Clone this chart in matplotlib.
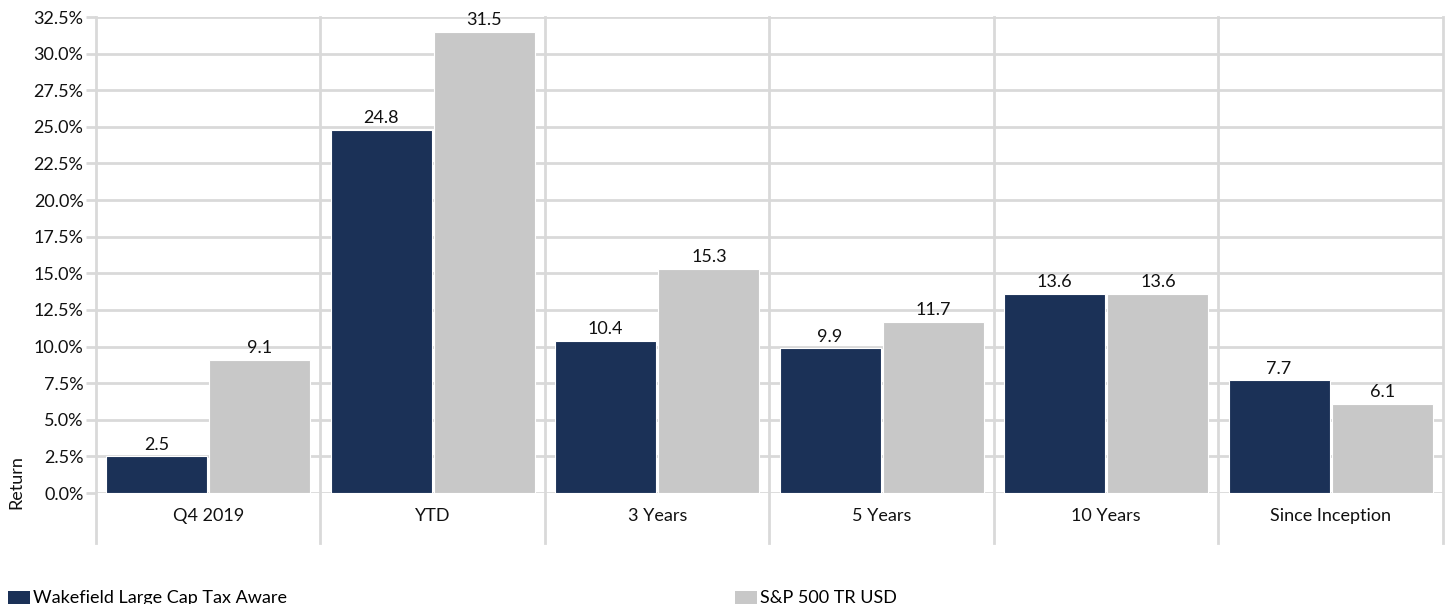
import matplotlib
matplotlib.use("Agg")
import matplotlib.pyplot as plt
from matplotlib.patches import Patch
import numpy as np

categories = ["Q4 2019", "YTD", "3 Years", "5 Years", "10 Years", "Since Inception"]
wakefield = [2.5, 24.8, 10.4, 9.9, 13.6, 7.7]
sp500 = [9.1, 31.5, 15.3, 11.7, 13.6, 6.1]
series_names = ["Wakefield Large Cap Tax Aware", "S&P 500 TR USD"]
yticks = np.arange(0, 32.51, 2.5)

navy = "#1b3157"
gray = "#c8c8c8"
grid = "#d9d9d9"
FS = 13

plt.rcParams['font.family'] = ['Lato', 'DejaVu Sans']

fig = plt.figure(figsize=(14.48, 6.04), dpi=100)
ax = fig.add_axes([96/1448, 1-493/604, (1443-96)/1448, 476/604])

x = np.arange(len(categories))
w = 0.45
b1 = ax.bar(x - w/2 - 0.005, wakefield, w, color=navy, edgecolor="white", linewidth=0.8, zorder=3)
b2 = ax.bar(x + w/2 + 0.005, sp500, w, color=gray, edgecolor="white", linewidth=0.8, zorder=3)

for bars, vals in ((b1, wakefield), (b2, sp500)):
    for r, v in zip(bars, vals):
        ax.annotate(f"{v:.1f}", (r.get_x() + r.get_width()/2, r.get_height()),
                    xytext=(0, 2.5), textcoords="offset points", ha="center", va="bottom",
                    fontsize=FS, color="#111111")

ax.set_xlim(-0.5, len(categories) - 0.5)
ax.set_ylim(0, 32.5)
ax.set_yticks(yticks)
ax.set_yticklabels([f"{t:.1f}%" for t in yticks], fontsize=FS, color="#111111")
ax.yaxis.grid(True, color=grid, linewidth=2, zorder=0)
ax.tick_params(axis="y", length=7.5, width=2, color=grid, pad=1.5)

ax.set_xticks(x)
ax.set_xticklabels(categories, fontsize=FS, color="#111111")
ax.tick_params(axis="x", length=0, pad=11)

for s in ax.spines.values():
    s.set_visible(False)

# category divider lines extending below axis
for b in np.arange(-0.5, len(categories), 1.0):
    ax.plot([b, b], [-0.105, 1.0], transform=ax.get_xaxis_transform(), color=grid,
            linewidth=2, clip_on=False, zorder=1)

ax.set_ylabel("Return", fontsize=FS, color="#111111")
ax.yaxis.set_label_coords(-0.0535, 0.023)

common = dict(loc="lower left", frameon=False, fontsize=FS, handlelength=1.22,
              handleheight=0.72, handletextpad=0.17, borderaxespad=0.0, borderpad=0.0)
fig.legend([Patch(facecolor=navy, edgecolor="none")], [series_names[0]],
           bbox_to_anchor=(8/1448, -0.004), **common)
fig.legend([Patch(facecolor=gray, edgecolor="none")], [series_names[1]],
           bbox_to_anchor=(735/1448, -0.004), **common)

fig.savefig("out.png", dpi=100)
